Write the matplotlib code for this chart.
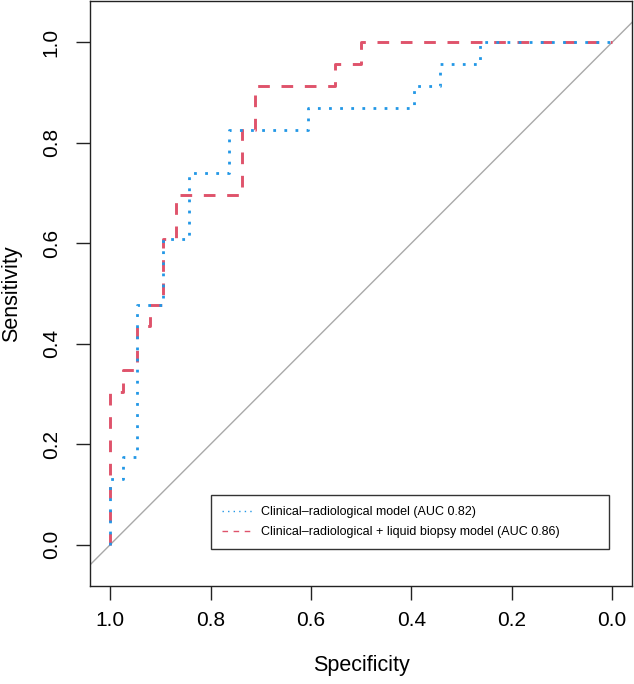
import matplotlib
matplotlib.use("Agg")
import matplotlib.pyplot as plt
from matplotlib.lines import Line2D

plt.rcParams['font.family'] = ['Liberation Sans', 'DejaVu Sans']

# ROC step vertices (specificity, sensitivity)
spec_clin = [1, 1, 0.974, 0.974, 0.947, 0.947, 0.895, 0.895, 0.842, 0.842, 0.763,
             0.763, 0.605, 0.605, 0.395, 0.395, 0.342, 0.342, 0.263, 0.263, 0]
sens_clin = [0, 0.130, 0.130, 0.174, 0.174, 0.478, 0.478, 0.609, 0.609, 0.739, 0.739,
             0.826, 0.826, 0.870, 0.870, 0.913, 0.913, 0.957, 0.957, 1, 1]

spec_comb = [1, 1, 0.974, 0.974, 0.947, 0.947, 0.921, 0.921, 0.895, 0.895, 0.868,
             0.868, 0.737, 0.737, 0.711, 0.711, 0.553, 0.553, 0.5, 0.5, 0]
sens_comb = [0, 0.304, 0.304, 0.348, 0.348, 0.435, 0.435, 0.478, 0.478, 0.609, 0.609,
             0.696, 0.696, 0.826, 0.826, 0.913, 0.913, 0.957, 0.957, 1, 1]

labels = ["Clinical\u2013radiological model (AUC 0.82)",
          "Clinical\u2013radiological + liquid biopsy model (AUC 0.86)"]
ticks = [1.0, 0.8, 0.6, 0.4, 0.2, 0.0]

blue = "#2297E6"
red = "#DF536B"

W, H = 634, 684
fig = plt.figure(figsize=(W / 100, H / 100), dpi=100)
ax = fig.add_axes([90 / W, (H - 586) / H, (632.3 - 90) / W, 585 / H])

ax.axline((0, 1), (1, 0), color="#A9A9A9", lw=1.0, zorder=1)
ax.plot(spec_comb, sens_comb, color=red, lw=2.1, linestyle=(0, (4, 4)), zorder=2)
ax.plot(spec_clin, sens_clin, color=blue, lw=2.0, linestyle=(0, (1, 3)), zorder=3)

ax.set_xlim(1.04, -0.04)
ax.set_ylim(-0.082, 1.082)
ax.set_xticks(ticks)
ax.set_yticks(ticks)
ax.set_xticklabels(["%.1f" % t for t in ticks])
ax.set_yticklabels(["%.1f" % t for t in ticks], rotation=90, va="center")
ax.tick_params(length=10, width=1.0, labelsize=15, color="#222222")
ax.tick_params(axis="x", pad=8)
ax.tick_params(axis="y", pad=11)
for s in ax.spines.values():
    s.set_linewidth(1.0)
    s.set_color("#222222")

ax.set_xlabel("Specificity", fontsize=15.5, labelpad=18)
ax.set_ylabel("Sensitivity", fontsize=15.5, labelpad=14)

handles = [Line2D([], [], color=blue, lw=1.0, linestyle=(0, (1, 3))),
           Line2D([], [], color=red, lw=1.0, linestyle=(0, (4, 4)))]
leg = ax.legend(handles, labels, loc="lower left", mode="expand",
                bbox_to_anchor=(0.223, 0.063, 0.734, 0.094), fontsize=9,
                frameon=True, fancybox=False, borderpad=0.9, labelspacing=0.6,
                handlelength=2.4, handletextpad=0.7, borderaxespad=0)
leg.get_frame().set_edgecolor("black")
leg.get_frame().set_linewidth(1.0)

fig.savefig("out.png", dpi=100)
